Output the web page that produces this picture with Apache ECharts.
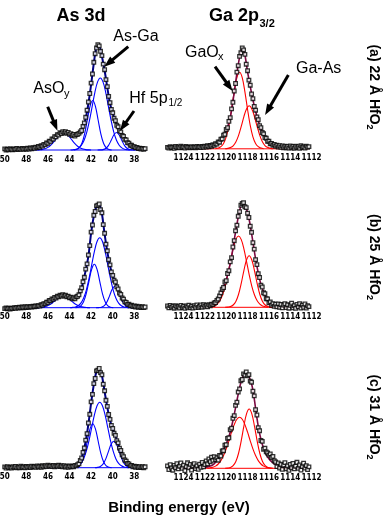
<!DOCTYPE html>
<html>
<head>
<meta charset="utf-8">
<title>As 3d / Ga 2p3/2 XPS</title>
<script src="https://cdn.jsdelivr.net/npm/echarts@6/dist/echarts.min.js"></script>
<style>
  html, body { margin: 0; padding: 0; background: #fff; }
  #chart { width: 388px; height: 524px; }
</style>
</head>
<body>
<div id="chart"></div>
<script>
// measured points: 0.125 eV step, fit envelope: 0.25 eV step (binding energy, eV)
const energyGrid = (start, step, n) => Array.from({ length: n }, (_, i) => +(start - i * step).toFixed(3));
const asPointE = energyGrid(50.0, 0.125, 105);
const asFitE = energyGrid(50.0, 0.25, 53);
const gaPointE = energyGrid(1125.5, 0.125, 107);
const gaFitE = energyGrid(1125.5, 0.25, 54);

// ---- As 3d, (a) 22 A ----
const asDataA = [2.6,1.5,2.3,1.7,2.8,2.1,1.6,2.5,2.2,3.0,
  1.9,2.6,2.1,3.1,2.2,2.9,2.3,3.3,2.5,3.6,
  2.8,3.9,3.2,4.4,3.7,5.0,4.3,5.9,5.4,7.1,
  6.6,8.5,8.3,10.4,10.1,12.5,12.4,14.8,14.6,16.9,
  16.5,18.7,18.0,19.8,18.6,19.9,18.2,19.0,17.1,17.9,
  16.0,17.0,15.4,16.9,17.2,18.1,19.6,21.0,25.1,28.6,
  34.2,41.3,49.5,58.0,68.4,77.5,89.2,97.8,103.5,106.8,
  105.6,100.2,95.9,87.4,81.8,71.9,64.9,55.1,48.8,42.0,
  38.7,33.2,30.8,26.2,24.7,20.8,19.6,16.1,15.1,12.1,
  11.5,8.9,8.4,6.3,6.2,4.7,4.9,3.6,4.0,2.9,
  3.4,2.5,3.1,2.3,2.9];
const asFitA = [2.0,2.0,2.0,2.1,2.1,2.2,2.3,2.4,2.6,2.8,
  3.1,3.5,4.0,4.7,5.7,7.0,8.6,10.6,12.8,15.0,
  17.0,18.5,19.2,18.9,17.8,16.6,16.0,16.5,19.0,24.0,
  33.0,48.0,67.0,88.0,104.0,105.0,95.0,81.0,64.0,48.0,
  38.0,30.0,24.0,19.0,14.5,11.0,8.0,5.8,4.5,3.6,
  3.0,2.7,2.5];
const asOxA = [[47.0,1.5],[46.75,1.75],[46.5,2.1],[46.25,2.8],[46.0,4.1],[45.75,6.2],[45.5,9.1],[45.25,12.5],[45.0,15.7],[44.75,17.9],[44.5,18.5],[44.25,17.2],[44.0,14.5],[43.75,11.1],[43.5,7.9],[43.25,5.3],[43.0,3.5],[42.75,2.5],[42.5,1.9],[42.25,1.6],[42.0,1.5]];
const asHiA = [[43.6,1.5],[43.35,2.0],[43.1,3.7],[42.85,8.2],[42.6,17.6],[42.35,31.5],[42.1,45.2],[41.85,51.0],[41.6,45.2],[41.35,31.5],[41.1,17.6],[40.85,8.2],[40.6,3.7],[40.35,2.0],[40.1,1.5]];
const asMainA = [[43.9,1.5],[43.65,1.8],[43.4,2.3],[43.15,3.6],[42.9,6.3],[42.65,11.2],[42.4,19.4],[42.15,31.1],[41.9,45.2],[41.65,59.2],[41.4,69.6],[41.15,73.5],[40.9,69.6],[40.65,59.2],[40.4,45.2],[40.15,31.1],[39.9,19.4],[39.65,11.2],[39.4,6.3],[39.15,3.6],[38.9,2.3],[38.65,1.8],[38.4,1.5]];
const hfA = [[41.4,1.5],[41.15,1.6],[40.9,1.9],[40.65,3.0],[40.4,5.9],[40.15,10.9],[39.9,16.5],[39.65,19.0],[39.4,16.5],[39.15,10.9],[38.9,5.9],[38.65,3.0],[38.4,1.9],[38.15,1.6],[37.9,1.5]];

// ---- As 3d, (b) 25 A ----
const asDataB = [0.6,1.3,0.4,1.0,0.2,1.1,0.7,1.6,0.9,1.8,
  1.1,2.0,1.3,2.2,1.5,2.4,1.6,2.5,1.9,2.6,
  2.2,2.9,2.5,3.2,2.9,3.6,3.1,4.5,4.2,5.6,
  5.3,7.0,6.9,8.7,8.5,10.2,10.0,11.7,11.2,12.9,
  12.3,13.9,13.2,14.4,13.1,14.0,12.4,13.0,11.3,12.0,
  10.4,11.6,10.5,12.3,12.9,14.4,18.3,21.4,27.4,31.9,
  40.1,45.3,54.2,63.6,77.1,84.2,93.9,97.7,103.3,104.0,
  105.2,99.6,96.4,84.6,75.9,65.1,58.4,49.5,44.3,37.3,
  33.8,29.0,27.2,22.4,20.2,16.1,14.7,11.2,10.1,7.3,
  6.8,4.8,4.9,3.4,3.9,2.7,3.3,2.2,2.9,1.9,
  2.6,1.7,2.4,1.6,2.2];
const asFitB = [1.2,1.2,1.3,1.3,1.4,1.4,1.5,1.6,1.7,1.8,
  2.0,2.3,2.6,3.3,4.4,5.6,7.2,8.8,10.3,11.6,
  12.7,13.6,13.7,12.9,11.8,10.9,10.9,12.4,17.5,26.5,
  39.0,53.0,76.0,93.0,102.5,104.5,95.5,75.0,57.5,43.5,
  33.0,26.5,19.5,14.0,9.5,6.2,4.3,3.4,2.8,2.4,
  2.1,1.9,1.8];
const asOxB = [[47.1,1.5],[46.85,1.6],[46.6,1.8],[46.35,2.3],[46.1,3.1],[45.85,4.4],[45.6,6.2],[45.35,8.5],[45.1,10.7],[44.85,12.4],[44.6,13.0],[44.35,12.4],[44.1,10.7],[43.85,8.5],[43.6,6.2],[43.35,4.4],[43.1,3.1],[42.85,2.3],[42.6,1.8],[42.35,1.6],[42.1,1.5]];
const asHiB = [[43.45,1.5],[43.2,2.0],[42.95,3.4],[42.7,7.4],[42.45,15.6],[42.2,27.9],[41.95,39.9],[41.7,45.0],[41.45,39.9],[41.2,27.9],[40.95,15.6],[40.7,7.4],[40.45,3.4],[40.2,2.0],[39.95,1.5]];
const asMainB = [[43.95,1.5],[43.7,1.8],[43.45,2.3],[43.2,3.5],[42.95,6.1],[42.7,11.0],[42.45,18.9],[42.2,30.3],[41.95,44.0],[41.7,57.6],[41.45,67.7],[41.2,71.5],[40.95,67.7],[40.7,57.6],[40.45,44.0],[40.2,30.3],[39.95,18.9],[39.7,11.0],[39.45,6.1],[39.2,3.5],[38.95,2.3],[38.7,1.8],[38.45,1.5]];
const hfB = [[41.55,1.5],[41.3,1.6],[41.05,2.0],[40.8,3.3],[40.55,6.9],[40.3,13.1],[40.05,19.9],[39.8,23.0],[39.55,19.9],[39.3,13.1],[39.05,6.9],[38.8,3.3],[38.55,2.0],[38.3,1.6],[38.05,1.5]];

// ---- As 3d, (c) 31 A ----
const asDataC = [2.3,1.2,2.6,1.5,2.0,1.1,2.4,1.6,2.7,1.3,
  2.2,1.5,2.9,1.7,2.4,1.4,2.8,1.9,2.5,1.6,
  3.0,2.1,2.7,1.8,3.2,2.2,2.9,2.0,3.4,2.4,
  3.6,2.6,3.9,2.8,3.5,2.7,3.8,2.5,3.6,2.9,
  3.9,2.6,3.4,2.3,3.5,2.2,3.1,2.0,3.3,2.4,
  3.1,2.5,3.8,3.3,4.6,5.4,8.7,11.2,16.8,21.2,
  29.1,35.5,46.2,54.9,67.3,74.8,85.6,90.7,98.3,99.0,
  100.7,96.6,94.4,85.0,78.4,68.9,62.8,54.7,49.8,43.8,
  40.7,35.9,33.8,28.6,26.3,21.1,18.7,14.4,12.6,9.2,
  8.1,5.7,5.3,3.6,3.8,2.4,3.1,2.0,2.8,1.7,
  2.6,1.6,2.5,1.5,2.4];
const asFitC = [1.7,1.7,1.7,1.7,1.8,1.8,1.8,1.9,1.9,2.0,
  2.0,2.1,2.2,2.3,2.4,2.5,2.6,2.7,2.8,2.8,
  2.8,2.8,2.7,2.6,2.6,2.7,3.2,4.0,8.0,16.0,
  28.0,45.0,66.0,84.5,97.5,100.0,93.5,77.5,62.0,49.0,
  40.0,33.0,25.5,18.0,12.0,7.5,4.8,3.2,2.5,2.2,
  2.0,1.9,1.8];
const asHiC = [[43.6,1.5],[43.35,2.0],[43.1,3.4],[42.85,7.4],[42.6,15.8],[42.35,28.2],[42.1,40.3],[41.85,45.5],[41.6,40.3],[41.35,28.2],[41.1,15.8],[40.85,7.4],[40.6,3.4],[40.35,2.0],[40.1,1.5]];
const asMainC = [[43.95,1.5],[43.7,1.8],[43.45,2.2],[43.2,3.4],[42.95,5.8],[42.7,10.3],[42.45,17.8],[42.2,28.4],[41.95,41.3],[41.7,54.0],[41.45,63.5],[41.2,67.0],[40.95,63.5],[40.7,54.0],[40.45,41.3],[40.2,28.4],[39.95,17.8],[39.7,10.3],[39.45,5.8],[39.2,3.4],[38.95,2.2],[38.7,1.8],[38.45,1.5]];
const hfC = [[41.65,1.5],[41.4,1.8],[41.15,2.7],[40.9,5.1],[40.65,10.1],[40.4,17.6],[40.15,24.9],[39.9,28.0],[39.65,24.9],[39.4,17.6],[39.15,10.1],[38.9,5.1],[38.65,2.7],[38.4,1.8],[38.15,1.5]];
const asBase = [[50.0,1.5],[36.9,1.5]];

// ---- Ga 2p3/2, (a) 22 A ----
const gaDataA = [2.9,2.2,3.5,2.6,3.1,2.0,3.8,2.7,3.3,2.4,
  4.0,2.8,3.4,2.3,3.9,2.9,3.2,2.5,3.7,2.8,
  3.3,2.6,3.8,2.9,3.5,2.7,3.9,3.0,4.2,3.3,
  4.5,3.6,4.9,4.1,5.5,4.9,6.6,6.2,8.4,8.1,
  11.0,11.4,15.2,16.0,20.8,22.6,28.9,32.7,41.4,48.0,
  59.3,66.8,78.2,84.6,93.9,97.5,102.3,100.4,95.9,86.1,
  79.6,70.2,65.1,56.3,51.6,43.8,40.1,33.3,30.6,24.7,
  22.6,17.8,16.5,12.7,12.0,9.1,9.0,6.6,6.9,5.0,
  5.8,4.0,5.1,3.3,4.6,2.9,4.4,2.6,4.1,2.5,
  3.9,2.2,4.3,2.6,3.8,2.1,4.0,2.7,3.6,2.0,
  4.5,2.8,3.5,2.3,4.2,2.9,3.7];
const gaFitA = [1.8,1.8,1.8,1.9,1.9,1.9,2.0,2.0,2.0,2.1,
  2.1,2.2,2.3,2.5,2.8,3.2,3.8,4.6,5.8,7.5,
  10.0,14.0,19.5,27.5,40.0,58.0,77.0,93.0,101.5,95.0,
  78.5,64.0,50.5,39.0,29.5,21.5,15.5,11.0,8.0,6.0,
  4.7,3.9,3.4,3.0,2.8,2.6,2.5,2.4,2.3,2.3,
  2.2,2.2,2.2,2.2];
const gaOxA = [[1121.0,1.5],[1120.75,2.2],[1120.5,3.6],[1120.25,6.9],[1120.0,13.5],[1119.75,24.9],[1119.5,40.8],[1119.25,58.4],[1119.0,72.6],[1118.75,78.0],[1118.5,72.6],[1118.25,58.4],[1118.0,40.8],[1117.75,24.9],[1117.5,13.5],[1117.25,6.9],[1117.0,3.6],[1116.75,2.2],[1116.5,1.5]];
const gaAsA = [[1120.1,1.5],[1119.85,1.9],[1119.6,2.7],[1119.35,4.5],[1119.1,8.3],[1118.85,14.7],[1118.6,23.6],[1118.35,33.5],[1118.1,41.4],[1117.85,44.5],[1117.6,41.4],[1117.35,33.5],[1117.1,23.6],[1116.85,14.7],[1116.6,8.3],[1116.35,4.5],[1116.1,2.7],[1115.85,1.9],[1115.6,1.5]];
const gaBaseA = [[1125.0,1.5],[1112.3,1.5]];

// ---- Ga 2p3/2, (b) 25 A ----
const gaDataB = [2.8,0.9,3.3,1.4,2.5,0.6,3.0,1.8,2.2,0.8,
  3.4,1.2,2.6,0.5,2.9,1.6,3.6,1.0,2.7,0.7,
  3.1,1.5,3.8,1.3,2.4,3.9,1.6,4.1,2.5,3.7,
  2.0,4.0,3.1,4.6,4.2,5.8,6.3,8.4,9.8,12.9,
  15.9,19.6,21.3,26.8,28.2,35.3,38.1,46.9,51.2,61.8,
  68.1,78.0,83.6,92.5,97.2,103.6,105.3,106.1,102.1,101.2,
  95.6,91.3,82.6,76.5,66.1,59.7,49.2,44.2,35.1,31.3,
  23.7,21.8,16.0,15.1,10.1,9.9,6.0,6.8,3.6,5.2,
  2.4,4.6,1.9,4.9,1.5,4.3,0.9,3.8,5.2,1.2,
  4.0,0.6,3.5,5.6,1.1,3.2,0.4,4.4,2.0,5.1,
  0.8,3.7,1.5,4.8,0.7,3.1,2.2];
const gaFitB = [1.5,1.5,1.5,1.5,1.5,1.5,1.5,1.5,1.5,1.6,
  1.6,1.7,1.8,1.9,2.0,2.2,2.6,3.6,5.6,9.0,
  14.8,22.0,29.0,39.0,52.0,69.0,84.5,98.0,106.0,103.0,
  96.5,83.5,67.0,50.0,36.0,24.5,16.8,10.8,6.6,4.2,
  3.0,2.6,2.3,2.2,2.1,2.0,2.0,2.0,1.9,1.9,
  1.9,1.9,1.9,1.9];
const gaOxB = [[1121.6,1.5],[1121.35,2.1],[1121.1,2.9],[1120.85,4.6],[1120.6,8.0],[1120.35,13.8],[1120.1,22.5],[1119.85,34.2],[1119.6,47.5],[1119.35,60.2],[1119.1,69.4],[1118.85,72.8],[1118.6,69.4],[1118.35,60.2],[1118.1,47.5],[1117.85,34.2],[1117.6,22.5],[1117.35,13.8],[1117.1,8.0],[1116.85,4.6],[1116.6,2.9],[1116.35,2.1],[1116.1,1.5]];
const gaAsB = [[1120.1,1.5],[1119.85,1.7],[1119.6,2.2],[1119.35,3.8],[1119.1,7.4],[1118.85,14.3],[1118.6,25.1],[1118.35,38.0],[1118.1,48.8],[1117.85,53.1],[1117.6,48.8],[1117.35,38.0],[1117.1,25.1],[1116.85,14.3],[1116.6,7.4],[1116.35,3.8],[1116.1,2.2],[1115.85,1.7],[1115.6,1.5]];
const gaBaseB = [[1125.1,1.5],[1113.0,1.5]];

// ---- Ga 2p3/2, (c) 31 A ----
const gaDataC = [3.9,0.2,5.1,1.8,-0.4,4.3,2.0,6.2,0.9,3.6,
  6.8,1.4,4.7,-0.8,3.2,7.0,2.1,5.4,-0.3,4.0,
  6.1,1.3,3.8,0.5,5.6,2.4,7.3,3.0,5.2,8.9,
  6.0,10.8,8.1,12.6,9.4,13.1,10.2,12.0,9.6,14.3,
  13.8,18.9,19.1,24.6,25.2,31.4,32.0,40.1,41.7,51.5,
  54.2,64.4,67.6,77.8,80.9,89.0,90.3,95.9,94.6,97.8,
  94.1,95.2,88.7,87.6,78.6,73.9,60.1,54.8,42.2,39.1,
  29.3,28.4,20.6,21.7,17.9,16.8,14.7,15.9,12.3,13.4,
  9.1,7.8,3.2,6.9,1.8,5.5,0.4,4.7,7.2,1.1,
  3.9,-0.6,5.3,2.0,6.4,0.9,3.6,7.5,1.4,4.8,
  -0.2,3.3,6.6,1.7,4.2,0.3,2.9];
const gaFitC = [1.5,1.5,1.5,1.5,1.5,1.6,1.6,1.6,1.7,1.7,
  1.8,1.9,2.0,2.2,2.5,2.9,3.7,5.0,7.6,11.0,
  15.0,20.0,26.0,33.0,43.0,55.5,69.0,82.0,91.5,95.5,
  95.5,90.0,80.0,61.5,43.5,30.5,21.5,15.5,11.0,8.1,
  6.0,4.6,3.7,3.0,2.6,2.3,2.1,2.0,1.9,1.9,
  1.8,1.8,1.8,1.8];
const gaOxC = [[1121.75,1.5],[1121.5,2.0],[1121.25,2.6],[1121.0,3.7],[1120.75,5.8],[1120.5,9.2],[1120.25,14.2],[1120.0,20.9],[1119.75,29.0],[1119.5,37.6],[1119.25,45.2],[1119.0,50.6],[1118.75,52.5],[1118.5,50.6],[1118.25,45.2],[1118.0,37.6],[1117.75,29.0],[1117.5,20.9],[1117.25,14.2],[1117.0,9.2],[1116.75,5.8],[1116.5,3.7],[1116.25,2.6],[1116.0,2.0],[1115.75,1.5]];
const gaAsC = [[1120.1,1.5],[1119.85,1.7],[1119.6,2.3],[1119.35,4.1],[1119.1,8.3],[1118.85,16.3],[1118.6,28.7],[1118.35,43.4],[1118.1,55.9],[1117.85,60.8],[1117.6,55.9],[1117.35,43.4],[1117.1,28.7],[1116.85,16.3],[1116.6,8.3],[1116.35,4.1],[1116.1,2.3],[1115.85,1.7],[1115.6,1.5]];
const gaBaseC = [[1122.0,1.5],[1113.3,1.5]];

// annotation arrows, in data coords [fromE, fromI, toE, toI]
const asArrows = [[46.02,44.8,45.31,25.9],[38.56,104.8,40.39,88.3],[38.03,40.5,39.04,25.0]];
const gaArrows = [[1121.05,83.6,1119.71,63.8],[1114.18,75.3,1116.10,40.0]];

const sans = '"Liberation Sans", Arial, Helvetica, sans-serif';
const tickFont = '"Liberation Sans Narrow", "DejaVu Sans Condensed", sans-serif';

const panels = [
  { kind: 'as', pts: asDataA, fit: asFitA, comps: [asOxA, asHiA, asMainA, hfA], base: asBase, arrows: asArrows, grid: { left: 0.4, top: 31.5 } },
  { kind: 'ga', pts: gaDataA, fit: gaFitA, comps: [gaOxA, gaAsA], base: gaBaseA, arrows: gaArrows, grid: { left: 165.4, top: 30.3 } },
  { kind: 'as', pts: asDataB, fit: asFitB, comps: [asOxB, asHiB, asMainB, hfB], base: asBase, grid: { left: 0.4, top: 189.2 } },
  { kind: 'ga', pts: gaDataB, fit: gaFitB, comps: [gaOxB, gaAsB], base: gaBaseB, grid: { left: 165.4, top: 188.8 } },
  { kind: 'as', pts: asDataC, fit: asFitC, comps: [asHiC, asMainC, hfC], base: asBase, grid: { left: 0.4, top: 349.2 } },
  { kind: 'ga', pts: gaDataC, fit: gaFitC, comps: [gaOxC, gaAsC], base: gaBaseC, grid: { left: 165.4, top: 349.8 } }
];

const style = {
  as: { comp: '#0000ff', fit: '#000080', fitW: 2, min: 36, max: 50.4, width: 155.5, pE: asPointE, fE: asFitE, lo: 38, hi: 50 },
  ga: { comp: '#ff0000', fit: '#7b0a42', fitW: 1.6, min: 1112, max: 1125.7, width: 146.2, pE: gaPointE, fE: gaFitE, lo: 1112, hi: 1124 }
};

const pair = (e, v) => v.map((y, i) => [e[i], y]);

const grids = [], xAxes = [], yAxes = [], series = [];
panels.forEach((p, i) => {
  const s = style[p.kind];
  grids.push({ left: p.grid.left, top: p.grid.top, width: s.width, height: 120, containLabel: false, outerBoundsMode: 'none' });
  xAxes.push({
    type: 'value', gridIndex: i, inverse: true, min: s.min, max: s.max, interval: 2,
    axisLine: { show: false }, axisTick: { show: false }, splitLine: { show: false },
    axisLabel: {
      margin: 4, fontSize: 8, fontWeight: 'bold', color: '#000', fontFamily: tickFont,
      hideOverlap: false,
      formatter: v => (v >= s.lo && v <= s.hi && v % 2 === 0) ? String(v) : ''
    }
  });
  yAxes.push({ type: 'value', gridIndex: i, min: 0, max: 120, show: false });

  const baseSeries = {
    type: 'line', xAxisIndex: i, yAxisIndex: i, data: p.base, symbol: 'none', silent: true, z: 2,
    lineStyle: { color: s.comp, width: 1 }
  };
  if (p.arrows) {
    baseSeries.markLine = {
      silent: true, animation: false,
      symbol: ['none', 'triangle'], symbolSize: [8, 11],
      lineStyle: { color: '#000', width: 3, type: 'solid' },
      itemStyle: { color: '#000' },
      label: { show: false },
      emphasis: { disabled: true },
      data: p.arrows.map(a => [{ coord: [a[0], a[1]] }, { coord: [a[2], a[3]] }])
    };
  }
  series.push(baseSeries);
  p.comps.forEach(c => series.push({
    type: 'line', xAxisIndex: i, yAxisIndex: i, data: c, symbol: 'none', smooth: 0.35, silent: true, z: 2,
    lineStyle: { color: s.comp, width: 1.1 }
  }));
  series.push({
    type: 'line', xAxisIndex: i, yAxisIndex: i, data: pair(s.fE, p.fit), symbol: 'none', smooth: 0.3, silent: true, z: 3,
    lineStyle: { color: s.fit, width: s.fitW }
  });
  series.push({
    type: 'scatter', xAxisIndex: i, yAxisIndex: i, data: pair(s.pE, p.pts), clip: false, silent: true, z: 4,
    symbol: 'rect', symbolSize: 3.6,
    itemStyle: { color: '#fff', borderColor: '#000', borderWidth: 1.3 }
  });
});

const txt = (text, x, y, font, align) => ({
  type: 'text', x, y, z: 100, silent: true,
  style: { text, font, fill: '#000', align, verticalAlign: 'middle' }
});
const vtxt = (text, x, y) => ({
  type: 'text', x, y, z: 100, silent: true, rotation: -Math.PI / 2,
  style: {
    text: '{m|' + text + '}{s|2}', fill: '#000', align: 'center', verticalAlign: 'middle',
    rich: {
      m: { font: 'bold 14px ' + sans, lineHeight: 18 },
      s: { font: 'bold 9px ' + sans, lineHeight: 9, verticalAlign: 'bottom' }
    }
  }
});

const chart = echarts.init(document.getElementById('chart'));
chart.setOption({
  backgroundColor: '#fff',
  animation: false,
  grid: grids,
  xAxis: xAxes,
  yAxis: yAxes,
  series: series,
  graphic: [
    txt('As 3d', 81, 16, 'bold 18px ' + sans, 'center'),
    txt('Ga 2p', 209, 16, 'bold 18px ' + sans, 'left'),
    txt('3/2', 259.5, 24, 'bold 11px ' + sans, 'left'),
    txt('AsO', 33.3, 89, '16px ' + sans, 'left'),
    txt('y', 64, 93.7, '11px ' + sans, 'left'),
    txt('As-Ga', 113.3, 36.7, '16px ' + sans, 'left'),
    txt('Hf 5p', 129.3, 99, '16px ' + sans, 'left'),
    txt('1/2', 168.5, 103, '10px ' + sans, 'left'),
    txt('GaO', 185, 52.5, '16px ' + sans, 'left'),
    txt('x', 218, 57, '11px ' + sans, 'left'),
    txt('Ga-As', 296, 68.3, '16px ' + sans, 'left'),
    vtxt('(a) 22 Å HfO', 374, 87),
    vtxt('(b) 25 Å HfO', 374, 257),
    vtxt('(c) 31 Å HfO', 374, 417),
    txt('Binding energy (eV)', 179, 508, 'bold 15px ' + sans, 'center')
  ]
});
</script>
</body>
</html>
